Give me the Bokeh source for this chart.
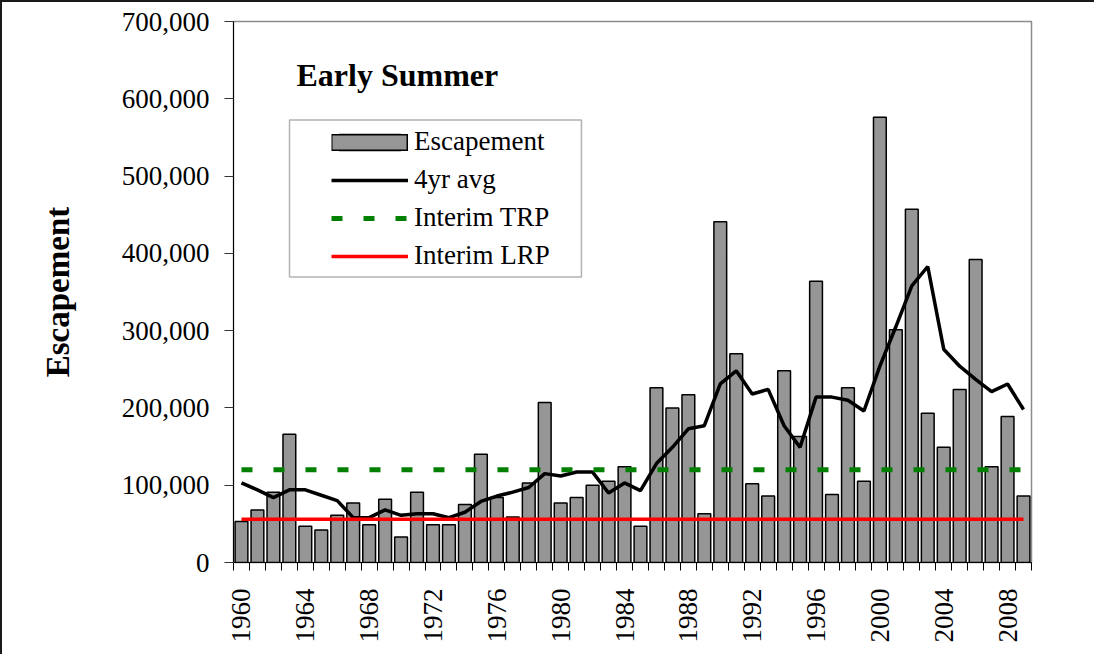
import math
from bokeh.plotting import figure
from bokeh.models import (Legend, LegendItem, FixedTicker, NumeralTickFormatter,
                          Label, Range1d, BoxAnnotation)
from bokeh.embed import file_html
from bokeh.resources import INLINE

# ---------------- data ----------------
years = list(range(1960, 2010))
escapement = [
    53000, 68000, 91000, 166000, 47000, 42000, 61000, 77000, 49000, 82000,
    33000, 91000, 49000, 49000, 75000, 140000, 84000, 59000, 103000, 207000,
    77000, 84000, 100000, 105000, 124000, 47000, 226000, 200000, 217000, 63000,
    441000, 270000, 102000, 86000, 248000, 163000, 364000, 88000, 226000, 105000,
    576000, 301000, 457000, 193000, 149000, 224000, 392000, 124000, 189000, 86000,
]
avg4 = [
    103000, 94000, 84000, 94000, 94000, 87000, 80000, 58000, 58000, 68000,
    61000, 63000, 63000, 58000, 65000, 79000, 86000, 91000, 97000, 115000,
    112000, 117000, 117000, 90000, 103000, 93000, 128000, 149000, 173000, 177000,
    231000, 248000, 218000, 224000, 177000, 149000, 214000, 214000, 210000, 196000,
    254000, 305000, 358000, 383000, 276000, 254000, 237000, 221000, 231000, 198000,
]
trp_value = 120000
lrp_value = 56000
y_ticks = [0, 100000, 200000, 300000, 400000, 500000, 600000, 700000]
label_years = years[::4]
series_names = ["Escapement", "4yr avg", "Interim TRP", "Interim LRP"]
title_text = "Early Summer"
y_title = "Escapement"

FONT = "Liberation Serif"
BAR_FILL = "#969696"
NAN = float("nan")

p = figure(width=1094, height=654,
           x_range=Range1d(years[0] - 0.5, years[-1] + 0.5),
           y_range=Range1d(0, 700000),
           output_backend="svg", toolbar_location=None,
           min_border_left=231, min_border_top=19,
           min_border_right=65, min_border_bottom=94)
p.styles = {"border-top": "2px solid #1a1a1a", "border-left": "2px solid #1a1a1a"}
p.xgrid.visible = False
p.ygrid.visible = False
p.outline_line_color = "#8c8c8c"
p.outline_line_width = 1.5
p.background_fill_color = "white"
p.border_fill_color = "white"

bars = p.vbar(x=years, top=escapement, width=0.8, fill_color=BAR_FILL,
              line_color="black", line_width=1.5)
avg_r = p.line(years, avg4, line_color="black", line_width=3.5)
trp_r = p.line([years[0], years[-1]], [trp_value, trp_value], line_color="#008000",
               line_width=5, line_dash="11 21")
lrp_r = p.line([years[0], years[-1]], [lrp_value, lrp_value], line_color="#ff0000",
               line_width=3.5)

# legend swatch for the bars (outlined rectangle spanning the full glyph width);
# these renderers hold no visible data, they only draw in the legend
sw_outline = p.line([years[0]], [NAN], line_color="black", line_width=17)
sw_fill = p.line([years[0]], [NAN], line_color=BAR_FILL, line_width=14,
                 line_dash="74 2", line_dash_offset=75)

# x axis
boundaries = [y - 0.5 for y in years] + [years[-1] + 0.5]
p.xaxis.ticker = FixedTicker(ticks=label_years, minor_ticks=boundaries)
p.xaxis.major_tick_line_color = None
p.xaxis.major_tick_out = 8
p.xaxis.major_tick_in = 0
p.xaxis.minor_tick_out = 8
p.xaxis.minor_tick_in = 0
p.xaxis.minor_tick_line_color = "black"
p.xaxis.axis_line_color = "black"
p.xaxis.major_label_orientation = math.pi / 2
p.xaxis.major_label_standoff = 18
p.xaxis.major_label_text_font = FONT
p.xaxis.major_label_text_font_size = "27px"
p.xaxis.major_label_text_color = "black"

# y axis
p.yaxis.ticker = FixedTicker(ticks=y_ticks)
p.yaxis.formatter = NumeralTickFormatter(format="0,0")
p.yaxis.major_tick_out = 9
p.yaxis.major_tick_in = 0
p.yaxis.minor_tick_line_color = None
p.yaxis.major_tick_line_color = "#333333"
p.yaxis.axis_line_color = "black"
p.yaxis.major_label_standoff = 15
p.yaxis.major_label_text_font = FONT
p.yaxis.major_label_text_font_size = "27px"
p.yaxis.major_label_text_color = "black"
p.yaxis.axis_label = y_title
p.yaxis.axis_label_text_font = FONT
p.yaxis.axis_label_text_font_style = "bold"
p.yaxis.axis_label_text_font_size = "33px"
p.yaxis.axis_label_text_color = "black"
p.yaxis.axis_label_standoff = 43

# title inside plot
p.add_layout(Label(x=63, y=488, x_units="screen", y_units="screen", text=title_text,
                   text_font=FONT, text_font_style="bold", text_font_size="32px",
                   text_color="black", text_baseline="alphabetic"))

# legend box
box = BoxAnnotation(left=1963.01, right=1981.30, top=572500, bottom=369400,
                    fill_color="white", fill_alpha=1.0, line_color="black",
                    line_width=1.5, level="annotation")
p.add_layout(box)

legend = Legend(items=[
    LegendItem(label=series_names[0], renderers=[bars, sw_outline, sw_fill]),
    LegendItem(label=series_names[1], renderers=[avg_r]),
    LegendItem(label=series_names[2], renderers=[trp_r]),
    LegendItem(label=series_names[3], renderers=[lrp_r]),
], location=(98, 291), padding=0, spacing=7, glyph_width=77, glyph_height=20,
   label_standoff=6, label_text_font=FONT, label_text_font_size="27px",
   label_text_color="black", border_line_alpha=0, background_fill_alpha=0,
   margin=0)
p.add_layout(legend, "center")

open("out.html", "w").write(file_html(p, INLINE))
